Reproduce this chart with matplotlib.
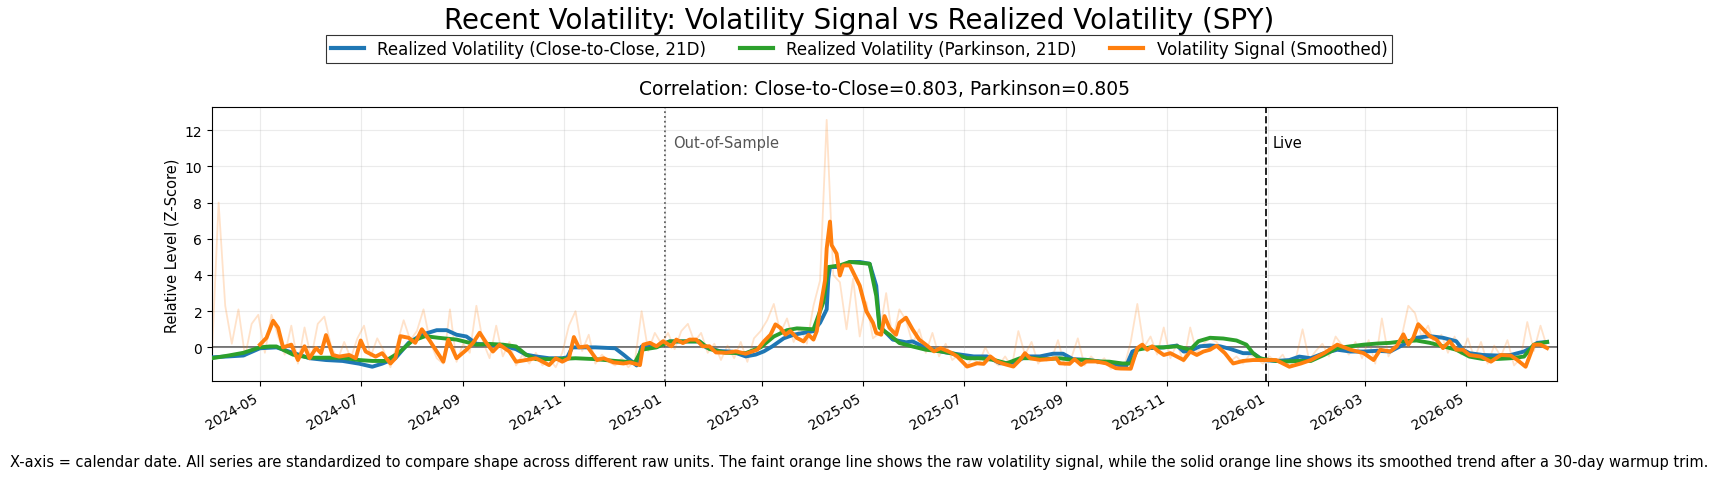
import numpy as np
import pandas as pd
import matplotlib
matplotlib.use("Agg")
import matplotlib.pyplot as plt
import matplotlib.dates as mdates

# day offsets from START
START = pd.Timestamp("2024-04-01")
OOS_DAY = 275      # 2025-01-01
LIVE_DAY = 639     # 2025-12-31

# Realized Volatility (Close-to-Close, 21D): (day, z-score)
cc_pts = [(1, -0.55), (11, -0.5), (20, -0.45), (30, -0.05), (40, 0.0), (50, -0.3), (60, -0.6),
          (70, -0.7), (80, -0.75), (90, -0.9), (98, -1.07), (104, -0.9), (112, -0.6), (120, 0.25),
          (128, 0.7), (137, 0.95), (143, 0.95), (149, 0.7), (155, 0.6), (161, 0.2), (169, 0.15),
          (177, 0.1), (185, -0.1), (191, -0.4), (197, -0.5), (205, -0.6), (213, -0.6), (216, -0.55),
          (219, 0.0), (233, 0.0), (245, -0.05), (250, -0.4), (258, -1.0), (261, 0.05), (270, 0.05),
          (278, 0.33), (296, 0.33), (300, 0.0), (308, -0.2), (316, -0.24), (324, -0.5), (330, -0.4),
          (335, -0.22), (340, 0.05), (347, 0.5), (353, 0.7), (359, 0.8), (365, 0.9), (369, 1.36),
          (373, 2.1), (374, 3.8), (375, 4.44), (381, 4.44), (387, 4.72), (393, 4.72), (399, 4.62),
          (403, 3.4), (405, 1.17), (409, 0.8), (413, 0.43), (421, 0.28), (425, 0.33), (429, 0.15),
          (437, -0.13), (445, -0.28), (454, -0.4), (462, -0.5), (470, -0.5), (478, -0.88),
          (486, -0.84), (494, -0.5), (502, -0.5), (510, -0.35), (516, -0.35), (522, -0.65),
          (530, -0.69), (538, -0.78), (550, -0.98), (554, -1.08), (558, -0.23), (563, -0.04),
          (569, -0.04), (577, 0.0), (585, 0.1), (589, -0.23), (593, -0.19), (599, 0.06), (605, 0.11),
          (611, 0.06), (617, -0.08), (625, -0.32), (631, -0.32), (637, -0.7), (645, -0.75),
          (653, -0.7), (659, -0.51), (666, -0.6), (674, -0.32), (682, -0.13), (690, -0.23),
          (698, -0.23), (706, -0.19), (714, -0.23), (722, 0.15), (730, 0.53), (738, 0.62),
          (746, 0.53), (754, 0.34), (758, -0.13), (762, -0.32), (770, -0.42), (779, -0.45),
          (787, -0.42), (795, -0.23), (799, -0.04), (803, 0.25), (809, 0.3)]

# Realized Volatility (Parkinson, 21D)
pk_pts = [(1, -0.6), (11, -0.45), (20, -0.3), (30, 0.0), (36, 0.05), (40, 0.05), (50, -0.4),
          (60, -0.57), (70, -0.57), (80, -0.57), (90, -0.7), (98, -0.75), (106, -0.75), (114, -0.3),
          (122, 0.35), (130, 0.62), (138, 0.53), (149, 0.43), (157, 0.25), (161, 0.15), (169, 0.19),
          (177, 0.15), (185, 0.05), (191, -0.4), (197, -0.65), (209, -0.65), (221, -0.6),
          (233, -0.65), (245, -0.75), (257, -0.83), (261, -0.13), (270, 0.0), (278, 0.33),
          (296, 0.33), (302, -0.09), (312, -0.3), (324, -0.32), (333, 0.0), (341, 0.6), (349, 0.95),
          (355, 1.05), (365, 1.0), (371, 2.5), (374, 4.44), (381, 4.53), (387, 4.72), (399, 4.62),
          (403, 2.85), (405, 1.08), (411, 0.7), (417, 0.24), (425, 0.05), (433, -0.13), (442, -0.22),
          (450, -0.35), (458, -0.6), (466, -0.6), (474, -0.69), (482, -0.88), (490, -0.6),
          (498, -0.6), (506, -0.65), (514, -0.6), (522, -0.69), (530, -0.69), (538, -0.78),
          (544, -0.79), (552, -0.89), (557, -0.89), (561, -0.13), (569, 0.0), (577, 0.0), (585, 0.06),
          (593, -0.13), (598, 0.34), (605, 0.53), (613, 0.49), (621, 0.38), (627, 0.15), (631, -0.32),
          (635, -0.6), (641, -0.7), (649, -0.79), (658, -0.75), (666, -0.75), (674, -0.42),
          (682, -0.04), (690, 0.06), (698, 0.15), (706, 0.21), (714, 0.25), (722, 0.34), (730, 0.38),
          (738, 0.25), (746, 0.06), (754, -0.13), (762, -0.51), (770, -0.64), (779, -0.64),
          (787, -0.6), (795, -0.51), (801, 0.15), (809, 0.3)]

# Volatility Signal (Smoothed), starts after 30-day warmup
sig_pts = [(30, 0.15), (34, 0.53), (38, 1.47), (41, 1.08), (44, 0.0), (49, 0.15), (53, -0.7),
           (57, 0.06), (60, -0.6), (64, -0.04), (67, -0.32), (70, 0.68), (74, -0.42), (78, -0.51),
           (84, -0.42), (88, -0.6), (91, 0.38), (94, -0.23), (100, -0.51), (104, -0.32), (109, -0.89),
           (112, -0.6), (115, 0.62), (120, 0.53), (124, 0.25), (128, 1.0), (133, 0.34), (137, -0.23),
           (141, -0.79), (144, 0.43), (149, -0.6), (155, -0.13), (159, 0.25), (163, 0.81), (167, 0.25),
           (171, -0.23), (175, 0.15), (181, -0.23), (185, -0.79), (191, -0.7), (197, -0.6),
           (201, -0.79), (205, -0.98), (209, -0.6), (213, -0.79), (217, -0.6), (220, 0.57), (223, 0.0),
           (228, 0.06), (234, -0.7), (238, -0.6), (244, -0.83), (250, -0.89), (254, -0.83),
           (260, -0.98), (262, 0.15), (266, 0.25), (270, 0.06), (274, 0.34), (279, 0.06), (282, 0.43),
           (286, 0.24), (290, 0.43), (294, 0.43), (298, 0.06), (302, 0.06), (306, -0.28), (312, -0.3),
           (318, -0.22), (324, -0.35), (331, -0.13), (335, 0.33), (339, 0.7), (342, 1.27), (345, 1.08),
           (348, 0.7), (351, 0.9), (355, 0.52), (359, 0.33), (362, 0.7), (365, 0.43), (367, 0.9),
           (369, 2.1), (372, 3.7), (373, 5.46), (375, 6.95), (376, 5.65), (379, 5.18), (381, 3.97),
           (383, 4.53), (387, 4.53), (390, 3.97), (393, 3.41), (397, 2.0), (401, 1.36), (403, 0.8),
           (406, 0.7), (408, 1.73), (411, 1.08), (415, 0.7), (417, 1.36), (421, 1.64), (425, 0.99),
           (429, 0.43), (433, 0.15), (438, -0.22), (442, -0.04), (448, -0.28), (452, -0.5),
           (458, -1.06), (464, -0.88), (468, -0.91), (472, -0.5), (476, -0.78), (480, -0.91),
           (486, -1.06), (490, -0.69), (493, -0.32), (496, -0.6), (502, -0.69), (508, -0.65),
           (512, -0.6), (514, -0.88), (520, -0.91), (523, -0.65), (527, -0.97), (530, -0.78),
           (536, -0.78), (542, -0.88), (548, -1.15), (551, -1.17), (557, -1.18), (561, -0.04),
           (564, 0.15), (567, -0.13), (570, 0.06), (574, -0.23), (577, -0.42), (581, -0.32),
           (585, -0.51), (589, -0.7), (593, -0.23), (597, -0.42), (601, -0.23), (605, -0.13),
           (609, 0.09), (614, -0.32), (619, -0.89), (625, -0.75), (631, -0.7), (637, -0.7),
           (645, -0.7), (653, -1.07), (660, -0.89), (666, -0.7), (674, -0.32), (682, 0.15),
           (690, -0.13), (698, -0.32), (704, -0.7), (708, -0.13), (714, -0.23), (718, 0.06),
           (722, 0.72), (725, 0.15), (728, 0.53), (731, 1.28), (734, 1.0), (738, 0.62), (742, 0.43),
           (746, -0.04), (750, 0.34), (754, -0.13), (758, -0.13), (762, -0.42), (769, -0.51),
           (775, -0.79), (781, -0.42), (787, -0.45), (791, -0.7), (796, -1.07), (801, 0.15),
           (805, 0.15), (809, -0.04)]

# raw volatility signal, one reading every 4 days from day 1
RAW_FIRST, RAW_STEP = 1, 4
raw_vals = [-0.3, 8.0, 2.3, 0.2, 2.1, -0.5, 1.3, 1.8, -0.3, 1.8,
            0.6, -0.4, 1.2, -0.9, 1.1, -0.6, 1.3, 1.7, 0.1, -0.7,
            0.3, -0.6, 0.5, 1.2, -0.5, 0.5, -0.2, -1.1, 0.2, 1.5,
            0.4, 0.9, 2.1, 0.3, -0.6, -0.9, 2.1, -0.8, 0.2, -0.3,
            2.3, 0.3, -0.6, 1.2, -0.5, 0.3, -1.0, -0.4, -0.9, -0.3,
            -1.0, -0.6, -1.1, -0.3, 1.2, 2.0, -0.2, 0.7, -0.9, -0.4,
            -0.8, -1.0, -0.6, -1.1, -0.7, 2.0, -0.2, 0.8, 0.2, 0.8,
            -0.1, 0.9, 1.3, 0.3, 0.8, -0.3, 0.2, -0.7, 0.1, -0.6,
            0.3, -0.8, 0.5, 0.9, 1.5, 2.4, 0.8, 1.6, 0.3, 1.1,
            0.2, 2.3, 3.7, 12.57, 4.0, 3.6, 1.0, 3.8, 0.6, 2.5,
            0.5, 0.8, 3.0, 0.4, 2.1, 1.5, 0.2, 1.0, -0.3, 0.8,
            -0.5, 0.2, -0.7, -0.4, -1.1, -0.6, -0.9, 0.0, -0.7, -1.0,
            -0.5, -1.1, 0.9, -0.4, 0.3, -0.9, -0.4, -0.7, 0.4, -1.0,
            -0.6, 0.5, -1.0, -0.5, -0.9, -0.6, -1.19, -0.9, -1.1, 0.3,
            2.4, 0.0, 0.6, -0.4, 1.1, -0.6, 0.2, -0.8, 1.1, -0.3,
            0.2, 0.5, 0.3, -0.2, -0.8, -0.5, -0.9, -0.4, -0.6, -0.9,
            -0.5, -0.8, -0.4, -1.1, -0.6, 1.0, -0.7, -0.2, 0.2, -0.5,
            0.6, 0.1, -0.4, 0.3, -0.6, 0.4, -0.9, 1.6, -0.5, 0.2,
            0.6, 2.3, 1.9, 0.6, 1.2, 0.1, 0.7, -0.3, 0.6, -0.4,
            0.5, -0.6, 0.3, -0.9, 0.1, -0.5, 0.4, -1.0, -0.6, 1.4,
            -0.2, 1.2, 0.0]

corr_cc = 0.803
corr_pk = 0.805


def to_dates(days):
    return START + pd.to_timedelta(np.asarray(days), unit="D")


def split(pts):
    d, v = zip(*pts)
    return to_dates(d), np.array(v)


cc_x, cc_y = split(cc_pts)
pk_x, pk_y = split(pk_pts)
sig_x, sig_y = split(sig_pts)
raw_x = to_dates(RAW_FIRST + RAW_STEP * np.arange(len(raw_vals)))

fig = plt.figure(figsize=(17.18, 4.81), dpi=100)
ax = fig.add_axes([0.1234, 0.205, 0.7829, 0.5696])

ax.plot(raw_x, raw_vals, color="#ff7f0e", alpha=0.22, lw=1.3, zorder=2)
ax.plot(cc_x, cc_y, color="#1f77b4", lw=2.8, label="Realized Volatility (Close-to-Close, 21D)", zorder=3)
ax.plot(pk_x, pk_y, color="#2ca02c", lw=2.8, label="Realized Volatility (Parkinson, 21D)", zorder=4)
ax.plot(sig_x, sig_y, color="#ff7f0e", lw=2.8, label="Volatility Signal (Smoothed)", zorder=5)

ax.axhline(0, color="#666666", lw=1.3, zorder=1)

oos = START + pd.Timedelta(days=OOS_DAY)
live = START + pd.Timedelta(days=LIVE_DAY)
ax.axvline(oos, color="#555555", ls=":", lw=1.3, zorder=1)
ax.axvline(live, color="#222222", ls="--", lw=1.4, zorder=1)
ax.text(oos + pd.Timedelta(days=5), 11.3, "Out-of-Sample", color="#555555", fontsize=10.5, va="center")
ax.text(live + pd.Timedelta(days=4), 11.3, "Live", color="black", fontsize=10.5, va="center")

ax.set_xlim(START + pd.Timedelta(days=1), START + pd.Timedelta(days=815))
ax.set_ylim(-1.88, 13.26)
ax.set_yticks([0, 2, 4, 6, 8, 10, 12])
ax.xaxis.set_major_locator(mdates.MonthLocator(bymonth=[1, 3, 5, 7, 9, 11]))
ax.xaxis.set_major_formatter(mdates.DateFormatter("%Y-%m"))
ax.tick_params(axis="both", labelsize=10)
for lab in ax.get_xticklabels():
    lab.set_rotation(30)
    lab.set_ha("right")
ax.grid(True, alpha=0.25)
ax.set_ylabel("Relative Level (Z-Score)", fontsize=10.5)
ax.set_title(f"Correlation: Close-to-Close={corr_cc:.3f}, Parkinson={corr_pk:.3f}", fontsize=13.5, pad=10)

fig.suptitle("Recent Volatility: Volatility Signal vs Realized Volatility (SPY)", fontsize=20, y=0.956, va="center")
leg = fig.legend(loc="center", bbox_to_anchor=(0.5, 0.896), ncol=3, fontsize=12,
                 fancybox=False, edgecolor="#333333", framealpha=1, borderpad=0.3,
                 handlelength=2.0, columnspacing=2.0)
leg.get_frame().set_linewidth(0.8)
for h in leg.get_lines():
    h.set_linewidth(3)

fig.text(0.5, 0.0395, "X-axis = calendar date. All series are standardized to compare shape across different raw units. "
         "The faint orange line shows the raw volatility signal, while the solid orange line shows its smoothed trend "
         "after a 30-day warmup trim.", ha="center", va="center", fontsize=10.5)

fig.savefig("out.png", dpi=100)
